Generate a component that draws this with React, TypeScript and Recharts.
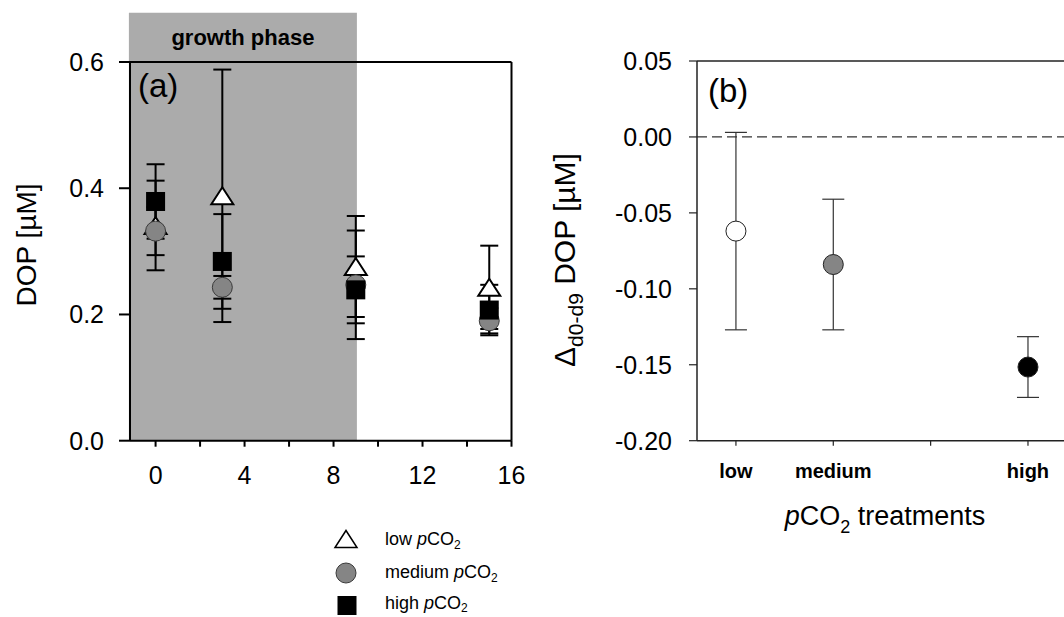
import React from 'react';
import {
  ScatterChart,
  Scatter,
  XAxis,
  YAxis,
  ErrorBar,
  ReferenceArea,
  ReferenceLine,
  Label,
} from 'recharts';

// ---------- Panel (a) data ----------
const days = [0, 3, 9, 15];
const lowMean = [0.341, 0.388, 0.276, 0.243];
const lowErr = [0.071, 0.2, 0.08, 0.066];
const medMean = [0.332, 0.243, 0.247, 0.19];
const medErr = [0.038, 0.018, 0.086, 0.02];
const highMean = [0.379, 0.284, 0.239, 0.207];
const highErr = [0.059, 0.075, 0.053, 0.04];
const aXTicks = [0, 2, 4, 6, 8, 10, 12, 14, 16];
const aYTicks = [0, 0.2, 0.4, 0.6];
const growthPhaseEnd = 9.05;

// ---------- Panel (b) data ----------
const bTreatments = ['low', 'medium', 'high'];
const bPositions = [1, 2, 4];
const bMean = [-0.062, -0.084, -0.1515];
const bErr = [0.065, 0.043, 0.02];
const bXTicks = [1, 2, 3, 4];
const bXTickLabels = ['low', 'medium', '', 'high'];
const bYTicks = [-0.2, -0.15, -0.1, -0.05, 0, 0.05];

const FONT = '"Liberation Sans", Arial, Helvetica, sans-serif';
const bFills = ['#ffffff', '#858585', '#000000'];

const lowData = days.map((d, i) => ({ x: d, y: lowMean[i], err: lowErr[i] }));
const medData = days.map((d, i) => ({ x: d, y: medMean[i], err: medErr[i] }));
const highData = days.map((d, i) => ({ x: d, y: highMean[i], err: highErr[i] }));
const bData = bTreatments.map((t, i) => [{ x: bPositions[i], y: bMean[i], err: bErr[i], name: t }]);

const TriangleShape = (props: any) => {
  const { cx, cy } = props;
  if (cx == null || cy == null) return null;
  return (
    <path
      d={`M${cx},${cy - 8.5}L${cx + 11},${cy + 8.5}L${cx - 11},${cy + 8.5}Z`}
      fill="#fff"
      stroke="#000"
      strokeWidth={2}
    />
  );
};
const CircleShape = (props: any) => {
  const { cx, cy } = props;
  if (cx == null || cy == null) return null;
  return <circle cx={cx} cy={cy} r={10} fill="#858585" stroke="#3a3a3a" strokeWidth={1} />;
};
const SquareShape = (props: any) => {
  const { cx, cy } = props;
  if (cx == null || cy == null) return null;
  return <rect x={cx - 9.5} y={cy - 9.5} width={19} height={19} fill="#000" />;
};
const makeBCircle = (fill: string) => (props: any) => {
  const { cx, cy } = props;
  if (cx == null || cy == null) return null;
  return <circle cx={cx} cy={cy} r={10} fill={fill} stroke="#222" strokeWidth={1} />;
};

const tickStyleA = { fill: '#000', fontSize: 25, fontFamily: FONT };

const PanelATag = () => (
  <text x={138} y={97} fontSize={33} fontFamily={FONT} fill="#000">
    (a)
  </text>
);

function PanelA() {
  return (
    <ScatterChart width={532} height={617} margin={{ top: 62, right: 20.5, bottom: 136.3, left: 50 }}>
      <ReferenceArea
        x1={-1.2}
        x2={growthPhaseEnd}
        y1={0}
        y2={0.678}
        fill="#ababab"
        fillOpacity={1}
        stroke="none"
        ifOverflow="visible"
      >
        <Label
          value="growth phase"
          position="insideTop"
          offset={17}
          fill="#000"
          fontSize={22}
          fontWeight="bold"
          fontFamily={FONT}
        />
        <Label content={PanelATag} />
      </ReferenceArea>
      <XAxis
        type="number"
        dataKey="x"
        domain={[-1.15, 16]}
        allowDataOverflow
        ticks={aXTicks}
        interval={0}
        tickFormatter={(v: number) => (v % 4 === 0 ? String(v) : '')}
        height={40}
        tickSize={6}
        tickMargin={20}
        axisLine={{ stroke: '#000', strokeWidth: 2 }}
        tickLine={{ stroke: '#000', strokeWidth: 2 }}
        tick={tickStyleA}
      />
      <YAxis
        type="number"
        dataKey="y"
        domain={[0, 0.6]}
        allowDataOverflow
        ticks={aYTicks}
        interval={0}
        tickFormatter={(v: number) => v.toFixed(1)}
        width={80}
        tickSize={11}
        tickMargin={15}
        axisLine={{ stroke: '#000', strokeWidth: 2 }}
        tickLine={{ stroke: '#000', strokeWidth: 2 }}
        tick={tickStyleA}
      />
      <ReferenceLine y={0.6} stroke="#000" strokeWidth={2} ifOverflow="visible" />
      <ReferenceLine x={16} stroke="#000" strokeWidth={2} ifOverflow="visible" />
      <Scatter name="low pCO2" data={lowData} shape={TriangleShape} isAnimationActive={false}>
        <ErrorBar dataKey="err" direction="y" width={9} stroke="#000" strokeWidth={2} isAnimationActive={false} />
      </Scatter>
      <Scatter name="medium pCO2" data={medData} shape={CircleShape} isAnimationActive={false}>
        <ErrorBar dataKey="err" direction="y" width={9} stroke="#000" strokeWidth={2} isAnimationActive={false} />
      </Scatter>
      <Scatter name="high pCO2" data={highData} shape={SquareShape} isAnimationActive={false}>
        <ErrorBar dataKey="err" direction="y" width={9} stroke="#000" strokeWidth={2} isAnimationActive={false} />
      </Scatter>
      <text
        x={35.5}
        y={245}
        transform="rotate(-90 35.5 245)"
        textAnchor="middle"
        fontSize={28}
        fontFamily={FONT}
        fill="#000"
      >
        DOP [µM]
      </text>
      {/* legend */}
      <g fontFamily={FONT} fontSize={18} fill="#000">
        <path d="M346,530.5L357,547.5L335,547.5Z" fill="#fff" stroke="#000" strokeWidth={1.5} />
        <text x={385} y={545}>
          low <tspan fontStyle="italic">p</tspan>CO<tspan fontSize={12} dy={4}>2</tspan>
        </text>
        <circle cx={346} cy={573} r={10} fill="#858585" stroke="#3a3a3a" strokeWidth={1} />
        <text x={385} y={578}>
          medium <tspan fontStyle="italic">p</tspan>CO<tspan fontSize={12} dy={4}>2</tspan>
        </text>
        <rect x={337.5} y={596} width={19} height={19} fill="#000" />
        <text x={385} y={609}>
          high <tspan fontStyle="italic">p</tspan>CO<tspan fontSize={12} dy={3}>2</tspan>
        </text>
      </g>
    </ScatterChart>
  );
}

const tickStyleB = { fill: '#000', fontSize: 25, fontFamily: FONT };

function PanelB() {
  return (
    <ScatterChart width={532} height={617} margin={{ top: 61, right: 0, bottom: 136.3, left: 85 }}>
      <XAxis
        type="number"
        dataKey="x"
        domain={[0.6, 4.37]}
        allowDataOverflow
        ticks={bXTicks}
        interval={0}
        tickFormatter={(v: number) => bXTickLabels[v - 1] ?? ''}
        height={40}
        tickSize={5}
        tickMargin={18}
        axisLine={{ stroke: '#222', strokeWidth: 1.5 }}
        tickLine={{ stroke: '#222', strokeWidth: 1.2 }}
        tick={{ fill: '#000', fontSize: 20, fontWeight: 'bold', fontFamily: FONT }}
      />
      <YAxis
        type="number"
        dataKey="y"
        domain={[-0.2, 0.05]}
        allowDataOverflow
        ticks={bYTicks}
        interval={0}
        tickFormatter={(v: number) => v.toFixed(2)}
        width={80}
        tickSize={8}
        tickMargin={17}
        axisLine={{ stroke: '#222', strokeWidth: 1.5 }}
        tickLine={{ stroke: '#222', strokeWidth: 1.2 }}
        tick={tickStyleB}
      />
      <ReferenceLine y={0.05} stroke="#222" strokeWidth={1.5} ifOverflow="visible" />
      <ReferenceLine y={0} stroke="#333" strokeWidth={1.3} strokeDasharray="10 5" />
      {bData.map((d, i) => (
        <Scatter key={bTreatments[i]} name={bTreatments[i]} data={d} shape={makeBCircle(bFills[i])} isAnimationActive={false}>
          <ErrorBar dataKey="err" direction="y" width={11} stroke="#333" strokeWidth={1.2} isAnimationActive={false} />
        </Scatter>
      ))}
      <text x={176} y={102} fontSize={33} fontFamily={FONT} fill="#000">(b)</text>
      <text
        x={43}
        y={260}
        transform="rotate(-90 43 260)"
        textAnchor="middle"
        fontSize={30}
        fontFamily={FONT}
        fill="#000"
      >
        Δ<tspan fontSize={21} dy={8}>d0-d9</tspan>
        <tspan dy={-8}> DOP [µM]</tspan>
      </text>
      <text x={353} y={525} textAnchor="middle" fontSize={27} fontFamily={FONT} fill="#000">
        <tspan fontStyle="italic">p</tspan>CO<tspan fontSize={18} dy={8}>2</tspan>
        <tspan dy={-8}> treatments</tspan>
      </text>
    </ScatterChart>
  );
}

export default function App() {
  return (
    <div
      style={{
        position: 'absolute',
        left: 0,
        top: 0,
        width: 1064,
        height: 617,
        overflow: 'hidden',
        background: '#fff',
      }}
    >
      <div style={{ position: 'absolute', left: 0, top: 0 }}>
        <PanelA />
      </div>
      <div style={{ position: 'absolute', left: 532, top: 0 }}>
        <PanelB />
      </div>
    </div>
  );
}
